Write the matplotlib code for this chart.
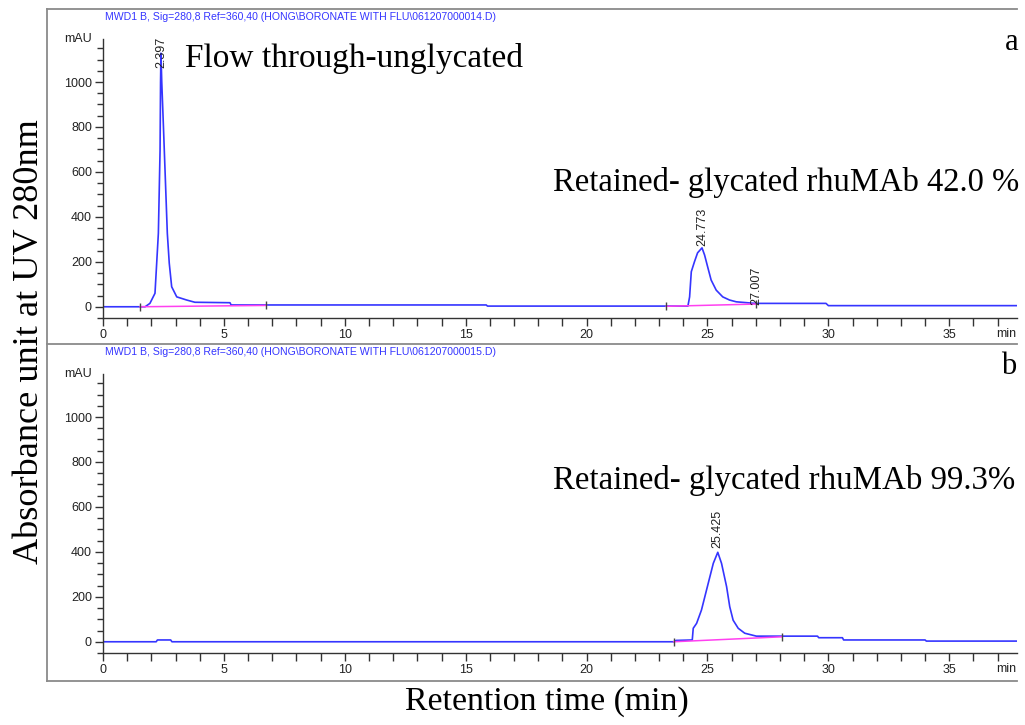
import matplotlib.pyplot as plt
import numpy as np
from matplotlib.lines import Line2D
from matplotlib.ticker import MultipleLocator

# chromatogram a (flow through + retained), time in min, signal in mAU
time_a = [0, 1.53, 1.74, 1.94, 2.15, 2.29, 2.36, 2.38, 2.397, 2.43, 2.50, 2.56, 2.66,
          2.74, 2.84, 3.05, 3.46, 3.80, 5.25, 5.30, 15.85, 15.90, 24.19, 24.26, 24.33,
          24.46, 24.59, 24.773, 24.88, 25.02, 25.15, 25.36, 25.63, 25.91, 26.19, 26.86,
          27.0, 29.9, 30.0, 37.8]
mau_a = [0, 0, 0, 15, 60, 327, 697, 1000, 1128, 1000, 800, 623, 327,
         194, 89, 44, 30, 20, 18, 8, 8, 3, 3, 44, 156,
         200, 240, 262, 230, 172, 119, 74, 44, 30, 22, 16,
         15, 15, 5, 5]

# chromatogram b (retained fraction)
time_b = [0, 2.20, 2.25, 2.80, 2.85, 23.60, 23.70, 24.37, 24.41, 24.55, 24.75, 25.03,
          25.24, 25.425, 25.58, 25.79, 25.92, 26.06, 26.27, 26.54, 27.02, 29.55, 29.60,
          30.58, 30.63, 34.0, 34.05, 37.8]
mau_b = [0, 0, 8, 8, 0, 0, 6, 8, 60, 82, 141, 260,
         349, 398, 349, 245, 156, 96, 60, 38, 25, 25, 18,
         18, 8, 8, 3, 3]

# integration baselines (start, end)
base_a_t = [[1.53, 6.76], [23.29, 27.0]]
base_a_v = [[0, 6], [2, 12]]
base_b_t = [[23.60, 28.07]]
base_b_v = [[0, 22]]

# peak retention time labels
peaks_a = [(2.397, 1063, '2.397'), (24.773, 272, '24.773'), (27.007, 8, '27.007')]
peaks_b = [(25.425, 415, '25.425')]

headers = ['MWD1 B, Sig=280,8 Ref=360,40 (HONG\\BORONATE WITH FLU\\061207000014.D)',
           'MWD1 B, Sig=280,8 Ref=360,40 (HONG\\BORONATE WITH FLU\\061207000015.D)']

W, H = 1025, 725
narrow = ['Liberation Sans', 'DejaVu Sans']
serif = ['Liberation Serif', 'DejaVu Serif']
blue = '#3535ff'
pink = '#ff40f0'
axcol = '#333333'

fig = plt.figure(figsize=(W / 100, H / 100), dpi=100)


def fx(px):
    return px / W


def fy(py):
    return 1 - py / H


def make_axes(top_px, bottom_px):
    ax = fig.add_axes([fx(103), fy(bottom_px), fx(1017 - 103), (bottom_px - top_px) / H])
    ax.set_xlim(0, 37.8)
    ax.set_ylim(-50, 1190)
    for s in ['top', 'right']:
        ax.spines[s].set_visible(False)
    for s in ['left', 'bottom']:
        ax.spines[s].set_color(axcol)
        ax.spines[s].set_linewidth(1.0)
    ax.xaxis.set_major_locator(MultipleLocator(5))
    ax.xaxis.set_minor_locator(MultipleLocator(1))
    ax.yaxis.set_major_locator(MultipleLocator(200))
    ax.yaxis.set_minor_locator(MultipleLocator(50))
    ax.set_yticks(np.arange(0, 1001, 200))
    ax.tick_params(which='both', direction='out', color=axcol, width=1.0)
    ax.tick_params(which='major', length=6, pad=2, labelsize=9, labelcolor='#222222')
    ax.tick_params(axis='x', which='minor', length=6)
    ax.tick_params(axis='y', which='minor', length=4)
    ax.set_facecolor('none')
    for lab in ax.get_xticklabels() + ax.get_yticklabels():
        lab.set_family(narrow)
    ax.text(-0.012, 1.0, 'mAU', transform=ax.transAxes, ha='right', va='center',
            fontsize=9, family=narrow, color='#222222')
    ax.text(0.999, -0.058, 'min', transform=ax.transAxes, ha='right', va='center',
            fontsize=9, family=narrow, color='#222222')
    return ax


ax_a = make_axes(39.3, 318)
ax_b = make_axes(374.3, 653)

ax_a.plot(time_a, mau_a, color=blue, lw=1.2)
ax_b.plot(time_b, mau_b, color=blue, lw=1.2)
for ax, bt, bv in [(ax_a, base_a_t, base_a_v), (ax_b, base_b_t, base_b_v)]:
    for t, v in zip(bt, bv):
        ax.plot(t, v, color=pink, lw=1.1)
        ax.plot(t, v, ls='none', marker='|', ms=6, mew=1.0, color='#444444')
for ax, pk in [(ax_a, peaks_a), (ax_b, peaks_b)]:
    for t, v, s in pk:
        ax.text(t, v, s, rotation=90, ha='center', va='bottom', fontsize=9,
                family=narrow, color='#222222')

# outer frame
for (x0, y0, x1, y1) in [(47, 9, 1017, 9), (47, 344, 1017, 344), (47, 681, 1017, 681), (47, 9, 47, 681)]:
    fig.add_artist(Line2D([fx(x0), fx(x1)], [fy(y0), fy(y1)], color='#8a8a8a', lw=1.3))

fig.canvas.draw()
renderer = fig.canvas.get_renderer()


def fit(t, width_px):
    bb = t.get_window_extent(renderer)
    t.set_fontsize(t.get_fontsize() * width_px / bb.width)


for ypx, h in zip([17, 352], headers):
    t = fig.text(fx(105), fy(ypx), h, ha='left', va='center', fontsize=9, family=narrow, color=blue)
    fit(t, 392)

t = fig.text(fx(185), fy(58), 'Flow through-unglycated', ha='left', va='center', fontsize=22, family=serif)
fit(t, 338)
t = fig.text(fx(1019), fy(182), 'Retained- glycated rhuMAb 42.0 %', ha='right', va='center', fontsize=22, family=serif)
fit(t, 466)
t = fig.text(fx(1015), fy(480), 'Retained- glycated rhuMAb 99.3%', ha='right', va='center', fontsize=22, family=serif)
fit(t, 460)
fig.text(fx(1018), fy(42), 'a', ha='right', va='center', fontsize=22, family=serif)
fig.text(fx(1016), fy(366), 'b', ha='right', va='center', fontsize=22, family=serif)

t = fig.text(fx(30), fy(342), 'Absorbance unit at UV 280nm', ha='center', va='center',
             rotation=90, fontsize=24, family=serif)
bb = t.get_window_extent(renderer)
t.set_fontsize(t.get_fontsize() * 445 / bb.height)
t = fig.text(fx(547), fy(702), 'Retention time (min)', ha='center', va='center', fontsize=22, family=serif)
fit(t, 283)

fig.savefig('out.png', dpi=100)
